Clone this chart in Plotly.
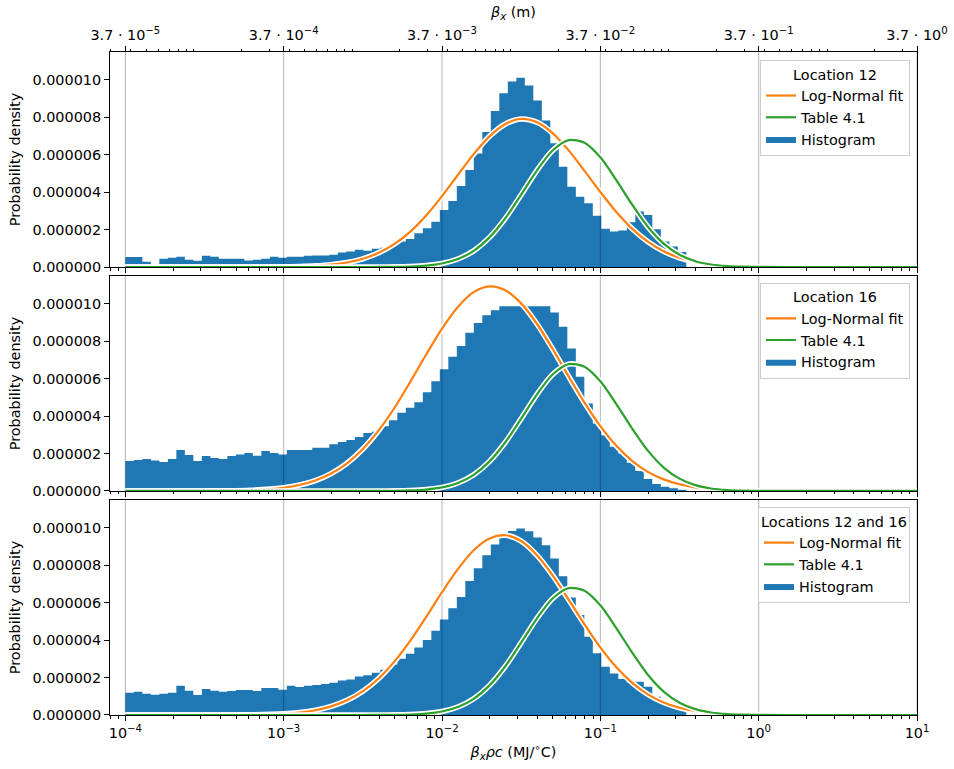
import numpy as np
import plotly.graph_objects as go

# ---------------- data ----------------
# histogram: log-spaced bins from 1e-4 upward, 66 bins
BIN_LOG_FIRST = -4.0
BIN_LOG_LAST = -0.457
N_BINS = 66

HIST_LOC12 = [0.53, 0.53, 0.28, 0.0, 0.44, 0.50, 0.55, 0.39, 0.34, 0.60,
              0.55, 0.44, 0.44, 0.44, 0.35, 0.39, 0.44, 0.55, 0.50, 0.55,
              0.55, 0.60, 0.62, 0.62, 0.65, 0.78, 0.83, 0.92, 0.87, 0.97,
              1.03, 1.20, 1.36, 1.49, 1.80, 2.07, 2.42, 3.04, 3.52, 4.32,
              5.17, 6.05, 7.20, 8.32, 9.27, 9.89, 10.1, 9.68, 8.88, 7.82,
              6.60, 5.35, 4.28, 3.75, 3.40, 2.73, 2.04, 1.90, 1.95, 2.39,
              2.96, 2.78, 2.02, 1.36, 1.10, 0.80]
HIST_LOC16 = [1.60, 1.65, 1.70, 1.63, 1.55, 1.70, 2.18, 1.92, 1.60, 1.87,
              1.76, 1.70, 1.87, 1.94, 2.02, 1.88, 2.13, 2.02, 1.94, 2.18,
              2.18, 2.18, 2.30, 2.30, 2.50, 2.61, 2.72, 2.88, 3.10, 3.16,
              3.45, 3.78, 4.17, 4.44, 4.74, 5.27, 5.86, 6.50, 7.16, 7.73,
              8.44, 8.97, 9.38, 9.64, 9.86, 9.86, 9.86, 9.86, 9.86, 9.86,
              9.52, 8.76, 7.60, 6.09, 4.67, 3.60, 2.98, 2.36, 2.00, 1.51,
              1.07, 0.64, 0.37, 0.23, 0.14, 0.07]
HIST_LOC12_16 = [1.19, 1.24, 1.14, 1.08, 1.14, 1.19, 1.56, 1.30, 1.07, 1.39,
                 1.30, 1.24, 1.28, 1.33, 1.33, 1.28, 1.44, 1.44, 1.35, 1.56,
                 1.49, 1.56, 1.60, 1.65, 1.72, 1.84, 1.90, 2.05, 2.12, 2.25,
                 2.42, 2.70, 3.00, 3.27, 3.60, 4.00, 4.50, 5.10, 5.70, 6.30,
                 7.15, 7.83, 8.52, 9.10, 9.45, 9.82, 9.95, 9.80, 9.47, 9.06,
                 8.35, 7.40, 6.27, 5.33, 4.17, 3.29, 2.58, 2.22, 1.92, 1.74,
                 1.78, 1.51, 0.98, 0.62, 0.44, 0.27]

# curves: x as log10 exponents, y in units of 1e-6
CURVE_LOG_X = [-4.0, -3.5, -3.2, -3.0, -2.9, -2.8, -2.7, -2.6, -2.5, -2.4,
               -2.3, -2.2, -2.1, -2.0, -1.9, -1.8, -1.7, -1.6, -1.5, -1.4,
               -1.3, -1.2, -1.1, -1.0, -0.9, -0.8, -0.7, -0.6, -0.5, -0.4,
               -0.3, -0.2, -0.1, 0.0, 0.3, 1.0]
FIT_LOC12 = [0, 0, 0.002, 0.012, 0.028, 0.061, 0.125, 0.240, 0.438, 0.755,
             1.23, 1.89, 2.75, 3.78, 4.91, 6.02, 6.97, 7.63, 7.90, 7.72,
             7.13, 6.22, 5.13, 4.00, 2.95, 2.05, 1.35, 0.837, 0.491, 0.272,
             0.143, 0.071, 0.033, 0.015, 0.001, 0]
FIT_LOC16 = [0, 0.004, 0.044, 0.173, 0.318, 0.557, 0.929, 1.478, 2.24, 3.23,
             4.44, 5.83, 7.28, 8.66, 9.82, 10.61, 10.92, 10.71, 10.01, 8.91,
             7.56, 6.11, 4.71, 3.46, 2.42, 1.61, 1.02, 0.619, 0.357, 0.196,
             0.103, 0.051, 0.024, 0.011, 0.001, 0]
FIT_LOC12_16 = [0, 0.001, 0.015, 0.068, 0.135, 0.255, 0.459, 0.783, 1.27, 1.95,
                2.86, 3.97, 5.23, 6.55, 7.78, 8.79, 9.42, 9.59, 9.28, 8.52,
                7.43, 6.15, 4.84, 3.61, 2.56, 1.73, 1.10, 0.671, 0.387, 0.212,
                0.110, 0.055, 0.026, 0.011, 0.001, 0]
TABLE_4_1 = [0, 0, 0, 0, 0, 0, 0, 0.0002, 0.0007, 0.0026,
             0.0088, 0.027, 0.0755, 0.189, 0.425, 0.862, 1.58, 2.60, 3.86, 5.16,
             6.23, 6.77, 6.63, 5.85, 4.65, 3.34, 2.15, 1.25, 0.658, 0.311,
             0.133, 0.051, 0.018, 0.0055, 0, 0]
Y_UNIT = 1e-6

LEGEND_TITLES = ["Location 12", "Location 16", "Locations 12 and 16"]
SERIES_NAMES = ["Log-Normal fit", "Table 4.1", "Histogram"]

X_MIN, X_MAX = 8e-5, 10.0
MAJOR_TICKS = [1e-4, 1e-3, 1e-2, 1e-1, 1e0, 1e1]
MAJOR_LABELS = ["10<sup>\u22124</sup>", "10<sup>\u22123</sup>", "10<sup>\u22122</sup>",
                "10<sup>\u22121</sup>", "10<sup>0</sup>", "10<sup>1</sup>"]
METRES_PER_UNIT = 0.37
TOP_LABELS = ["3.7 \u00b7 10<sup>\u22125</sup>", "3.7 \u00b7 10<sup>\u22124</sup>",
              "3.7 \u00b7 10<sup>\u22123</sup>", "3.7 \u00b7 10<sup>\u22122</sup>",
              "3.7 \u00b7 10<sup>\u22121</sup>", "3.7 \u00b7 10<sup>0</sup>"]
Y_TICKS = [0, 2e-6, 4e-6, 6e-6, 8e-6, 1e-5]
Y_MAX = 1.147e-5

# ---------------- styling ----------------
BLUE, ORANGE, GREEN = "#1f77b4", "#ff7f0e", "#2ca02c"
FONT = "DejaVu Sans"
FS = 14.4

edges = np.logspace(BIN_LOG_FIRST, BIN_LOG_LAST, N_BINS + 1)
curve_x = [10 ** v for v in CURVE_LOG_X]

panels = [
    dict(hist=HIST_LOC12, fit=FIT_LOC12, xa="x3", ya="y3", leg="legend"),
    dict(hist=HIST_LOC16, fit=FIT_LOC16, xa="x2", ya="y2", leg="legend2"),
    dict(hist=HIST_LOC12_16, fit=FIT_LOC12_16, xa="x", ya="y", leg="legend3"),
]

fig = go.Figure()
for p in panels:
    counts = [c * Y_UNIT for c in p["hist"]]
    fig.add_trace(go.Scatter(
        x=list(edges), y=counts + [counts[-1]], mode="lines", line_shape="hv",
        line=dict(width=0, color=BLUE), fill="tozeroy", fillcolor=BLUE,
        name=SERIES_NAMES[2], legend=p["leg"], legendrank=3,
        xaxis=p["xa"], yaxis=p["ya"], hoverinfo="skip"))
    # grid lines drawn over the bars
    gx, gy = [], []
    for t in MAJOR_TICKS:
        gx += [t, t, None]
        gy += [0, Y_MAX, None]
    fig.add_trace(go.Scatter(x=gx, y=gy, mode="lines",
                             line=dict(color="rgba(0,0,0,0.3)", width=1),
                             showlegend=False, hoverinfo="skip",
                             xaxis=p["xa"], yaxis=p["ya"]))
    for vals, col, name, rank in [(p["fit"], ORANGE, SERIES_NAMES[0], 1),
                                  (TABLE_4_1, GREEN, SERIES_NAMES[1], 2)]:
        yy = [v * Y_UNIT for v in vals]
        fig.add_trace(go.Scatter(x=curve_x, y=yy, mode="lines",
                                 line=dict(color="white", width=5.5, shape="spline", smoothing=0.8),
                                 showlegend=False, hoverinfo="skip",
                                 xaxis=p["xa"], yaxis=p["ya"]))
        fig.add_trace(go.Scatter(x=curve_x, y=yy, mode="lines",
                                 line=dict(color=col, width=2.2, shape="spline", smoothing=0.8),
                                 name=name, legend=p["leg"], legendrank=rank,
                                 hoverinfo="skip", xaxis=p["xa"], yaxis=p["ya"]))

minor_bottom = [d * 10.0 ** e for e in range(-5, 1) for d in range(2, 10)
                if X_MIN <= d * 10.0 ** e <= X_MAX]
top_lo, top_hi = X_MIN * METRES_PER_UNIT, X_MAX * METRES_PER_UNIT
minor_top = [d * 10.0 ** e for e in range(-5, 1) for d in range(1, 10)
             if top_lo <= d * 10.0 ** e <= top_hi]

# invisible anchor so the secondary (top) axis in metres is drawn
fig.add_trace(go.Scatter(x=[top_lo, top_hi], y=[0, 0], mode="markers",
                         marker=dict(opacity=0, size=1), showlegend=False,
                         hoverinfo="skip", xaxis="x4", yaxis="y3"))

xrange_log = [np.log10(X_MIN), np.log10(X_MAX)]
common_x = dict(type="log", range=xrange_log, tickmode="array", tickvals=MAJOR_TICKS,
                ticktext=MAJOR_LABELS, ticks="outside", ticklen=5, tickwidth=1,
                tickcolor="black", showline=True, linecolor="black", linewidth=1,
                mirror=True, showgrid=False, zeroline=False, automargin=False,
                minor=dict(tickmode="array", tickvals=minor_bottom, ticks="outside",
                           ticklen=2.5, tickwidth=0.8, tickcolor="black", showgrid=False),
                tickfont=dict(size=FS, color="black"))
common_y = dict(range=[0, Y_MAX], tickmode="array", tickvals=Y_TICKS, tickformat=".6f",
                ticks="outside", ticklen=5, tickwidth=1, tickcolor="black",
                showline=True, linecolor="black", linewidth=1, mirror=True,
                showgrid=False, zeroline=False, automargin=False,
                tickfont=dict(size=FS, color="black"),
                title=dict(text="Probability density", font=dict(size=FS, color="black"),
                           standoff=8))

# plot area: left 110, right 917, top 52, bottom 715 (px)
doms = {"y": [0.0, 0.3243], "y2": [0.3379, 0.6621], "y3": [0.6757, 1.0]}

legend_common = dict(xanchor="right", yanchor="top", x=0.9913,
                     bgcolor="rgba(255,255,255,0.8)", bordercolor="#cccccc",
                     borderwidth=1, font=dict(size=FS, color="black", family=FONT),
                     tracegroupgap=0, itemwidth=30, traceorder="normal")

fig.update_layout(
    width=954, height=769,
    margin=dict(l=110, r=37, t=52, b=54),
    paper_bgcolor="white", plot_bgcolor="white",
    font=dict(family=FONT, size=FS, color="black"),
    showlegend=True,
    xaxis=dict(common_x, anchor="y",
               title=dict(text="<i>\u03b2<sub>x</sub>\u03c1c</i> (MJ/<sup>\u2218</sup>C)",
                          font=dict(size=FS), standoff=6)),
    xaxis2=dict(common_x, anchor="y2", matches="x", showticklabels=False),
    xaxis3=dict(common_x, anchor="y3", matches="x", showticklabels=False),
    xaxis4=dict(type="log", overlaying="x3", anchor="y3", side="top",
                range=[np.log10(top_lo), np.log10(top_hi)], tickmode="array",
                tickvals=[t * METRES_PER_UNIT for t in MAJOR_TICKS], ticktext=TOP_LABELS,
                ticks="outside", ticklen=5, tickwidth=1, tickcolor="black",
                showline=True, linecolor="black", showgrid=False, zeroline=False,
                automargin=False,
                minor=dict(tickmode="array", tickvals=minor_top, ticks="outside",
                           ticklen=2.5, tickwidth=0.8, tickcolor="black", showgrid=False),
                tickfont=dict(size=FS, color="black"),
                title=dict(text="<i>\u03b2<sub>x</sub></i> (m)", font=dict(size=FS), standoff=4)),
    yaxis=dict(common_y, domain=doms["y"], anchor="x"),
    yaxis2=dict(common_y, domain=doms["y2"], anchor="x2"),
    yaxis3=dict(common_y, domain=doms["y3"], anchor="x3"),
    legend=dict(legend_common, y=0.988,
                title=dict(text=LEGEND_TITLES[0], side="top center", font=dict(size=FS))),
    legend2=dict(legend_common, y=0.652,
                 title=dict(text=LEGEND_TITLES[1], side="top center", font=dict(size=FS))),
    legend3=dict(legend_common, y=0.3137,
                 title=dict(text=LEGEND_TITLES[2], side="top center", font=dict(size=FS))),
)

# remove the browser's default page margin so the figure sits at the window origin
fig.write_html("out.html", config={"displayModeBar": False},
               post_script="document.body.style.margin='0';document.body.style.overflow='hidden';")
